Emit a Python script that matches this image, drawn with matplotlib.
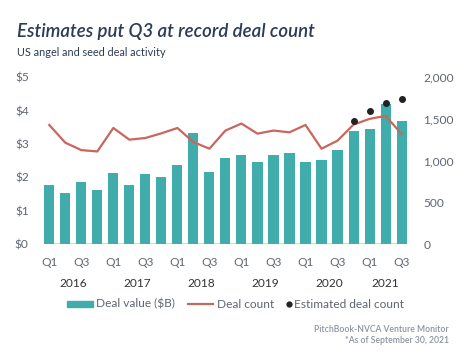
import matplotlib
matplotlib.use("Agg")
import matplotlib.pyplot as plt
import numpy as np
from matplotlib.lines import Line2D
from matplotlib.patches import Rectangle

plt.rcParams["font.family"] = ["Lato", "DejaVu Sans"]

quarters = ["Q1", "Q2", "Q3", "Q4"] * 5 + ["Q1", "Q2", "Q3"]
years = ["2016", "2017", "2018", "2019", "2020", "2021"]
deal_value = [1.78, 1.54, 1.87, 1.63, 2.14, 1.78, 2.11, 2.02, 2.38, 3.33,
              2.17, 2.59, 2.67, 2.46, 2.67, 2.73, 2.46, 2.52, 2.82, 3.39,
              3.45, 4.20, 3.69]
deal_count = [1429, 1217, 1128, 1112, 1393, 1253, 1273, 1329, 1393, 1224,
              1145, 1362, 1446, 1325, 1362, 1341, 1429, 1145, 1241, 1434,
              1502, 1538, 1321]
est_idx = [19, 20, 21, 22]
est_count = [1482, 1594, 1691, 1739]

teal = "#40ACAC"
red = "#C9665D"
navy = "#2C3B56"
gray = "#5F6670"
fs = 8.6

fig = plt.figure(figsize=(4.75, 3.59), dpi=100)
ax = fig.add_axes([0.0926, 0.3195, 0.764, 0.4652])
ax2 = ax.twinx()

x = np.arange(len(deal_value))
ax.bar(x, deal_value, width=0.63, color=teal, zorder=2)
ax.set_ylim(0, 5)
ax.set_xlim(-0.33, len(x) - 0.67)
ax.set_yticks(range(6))
ax.set_yticklabels(["${}".format(v) for v in range(6)])
ax.axhline(0, color="#D8D8D8", lw=1.5, zorder=1)

ax2.plot(x, deal_count, color=red, lw=1.6, zorder=3)
ax2.scatter(est_idx, est_count, s=16, color="#222222", zorder=4)
ax2.set_ylim(0, 2000)
ax2.set_yticks(range(0, 2001, 500))
ax2.set_yticklabels(["{:,}".format(v) for v in range(0, 2001, 500)])

for a in (ax, ax2):
    for s in a.spines.values():
        s.set_visible(False)
    a.tick_params(length=0, labelsize=fs, colors=gray)
ax.tick_params(axis="y", pad=11)
ax2.tick_params(axis="y", pad=12)

ax.set_xticks(x[::2])
ax.set_xticklabels(quarters[::2])
ax.tick_params(axis="x", pad=9)

for i, yr in enumerate(years):
    n = 4 if i < 5 else 3
    ax.text(i * 4 + (n - 1) / 2, -0.235, yr, transform=ax.get_xaxis_transform(),
            ha="center", va="center", fontsize=fs, color="#333333")

fig.text(0.036, 0.913, "Estimates put Q3 at record deal count", fontsize=13.4,
         fontstyle="italic", fontweight="semibold", color=navy, va="center")
fig.text(0.036, 0.855, "US angel and seed deal activity", fontsize=7.8,
         color=navy, va="center")

# legend drawn by hand so each entry sits where it does in the original
ly = 0.153
fig.add_artist(Rectangle((0.141, ly - 0.0095), 0.055, 0.019, color=teal,
                         transform=fig.transFigure))
fig.text(0.202, ly, "Deal value ($B)", fontsize=fs, color=gray, va="center")
fig.add_artist(Line2D([0.396, 0.448], [ly, ly], color=red, lw=1.6,
                      transform=fig.transFigure))
fig.text(0.457, ly, "Deal count", fontsize=fs, color=gray, va="center")
fig.add_artist(Line2D([0.608], [ly], marker="o", markersize=3.5, ls="",
                      color="#222222", transform=fig.transFigure))
fig.text(0.62, ly, "Estimated deal count", fontsize=fs, color=gray, va="center")

fig.text(0.945, 0.083, "PitchBook-NVCA Venture Monitor", fontsize=6.2,
         fontweight="semibold", color="#8A93A0", ha="right", va="center")
fig.text(0.945, 0.052, "*As of September 30, 2021", fontsize=6.2,
         fontweight="semibold", color="#8A93A0", ha="right", va="center")

fig.savefig("out.png", dpi=100)
